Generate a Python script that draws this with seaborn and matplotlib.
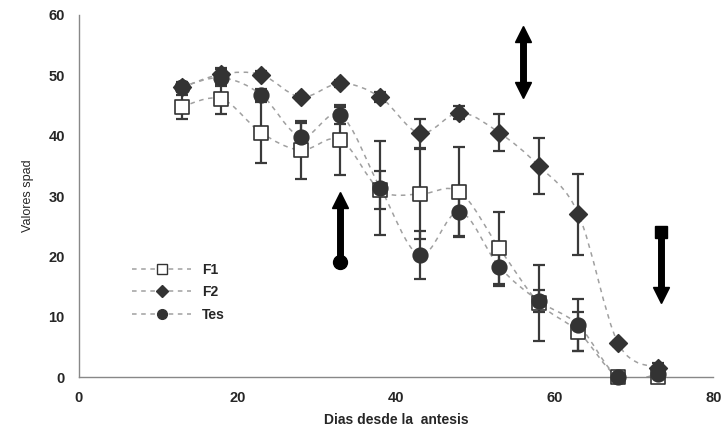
import numpy as np
import pandas as pd
import matplotlib.pyplot as plt
import seaborn as sns
from matplotlib.path import Path
from matplotlib.patches import PathPatch
from matplotlib.lines import Line2D

dias = [13, 18, 23, 28, 33, 38, 43, 48, 53, 58, 63, 68, 73]
f1 = [44.8, 46.1, 40.5, 37.6, 39.3, 31.0, 30.3, 30.7, 21.4, 12.3, 7.5, 0.0, 0.0]
f1_err = [2.0, 2.5, 5.1, 4.8, 5.8, 3.2, 7.5, 7.4, 6.0, 6.3, 3.2, 0.0, 0.0]
f2 = [48.0, 50.2, 50.1, 46.4, 48.7, 46.4, 40.4, 43.8, 40.5, 35.0, 27.0, 5.6, 1.5]
f2_err = [0.6, 1.0, 0.6, 0.5, 0.6, 0.8, 2.4, 1.1, 3.1, 4.6, 6.7, 0.4, 0.8]
tes = [48.1, 49.6, 46.8, 39.8, 43.4, 31.4, 20.2, 27.4, 18.3, 12.6, 8.6, 0.0, 0.5]
tes_err = [0.8, 1.4, 1.0, 2.3, 1.4, 7.8, 4.0, 4.2, 3.2, 1.8, 4.3, 0.0, 0.5]

# flechas: (x, y base, y punta)
flechas = [(33, 19.0, 30.5), (56, 46.4, 58.0), (73.4, 24.0, 12.4)]

series = [('F1', f1, f1_err, 's', 'white'),
          ('F2', f2, f2_err, 'D', '#333333'),
          ('Tes', tes, tes_err, 'o', '#333333')]


def smooth_path(x, y):
    pts = np.column_stack([x, y]).astype(float)
    verts = [pts[0]]
    codes = [Path.MOVETO]
    n = len(pts)
    for i in range(n - 1):
        p0 = pts[i - 1] if i > 0 else pts[i]
        p1 = pts[i]
        p2 = pts[i + 1]
        p3 = pts[i + 2] if i + 2 < n else pts[i + 1]
        c1 = p1 + (p2 - p0) / 6
        c2 = p2 - (p3 - p1) / 6
        verts += [c1, c2, p2]
        codes += [Path.CURVE4] * 3
    return Path(verts, codes)


sns.set_style('white')
plt.rcParams['font.family'] = ['Liberation Sans', 'DejaVu Sans']

fig = plt.figure(figsize=(7.22, 4.28), dpi=100)
ax = fig.add_axes([0.109, 0.119, 0.879, 0.846])

rows = []
for name, vals, errs, mk, fc in series:
    for d, v, e in zip(dias, vals, errs):
        rows.append({'dias': d, 'valor': v, 'err': e, 'serie': name})
df = pd.DataFrame(rows)

for name, vals, errs, mk, fc in series:
    ax.add_patch(PathPatch(smooth_path(dias, vals), fill=False, ec='#a0a0a0',
                           lw=1.1, ls=(0, (3, 3)), zorder=1))
    ax.errorbar(dias, vals, yerr=errs, fmt='none', ecolor='#3a3a3a',
                elinewidth=1.6, capsize=4.5, capthick=1.6, zorder=2)

sizes = {'s': 90, 'D': 80, 'o': 110}
for name, vals, errs, mk, fc in series:
    sub = df[df['serie'] == name]
    sns.scatterplot(data=sub, x='dias', y='valor', marker=mk, s=sizes[mk],
                    color=fc, edgecolor='#333333', linewidth=1.2, ax=ax, zorder=3,
                    legend=False, clip_on=False)

# flechas
x, y0, y1 = flechas[0]
ax.plot([x, x], [y0, y1 - 2], color='black', lw=5, solid_capstyle='butt', zorder=4)
ax.plot([x], [y0], marker='o', ms=10, color='black', zorder=4)
ax.plot([x], [y1 - 1.2], marker='^', ms=11, color='black', zorder=4)
x, y0, y1 = flechas[1]
ax.plot([x, x], [y0 + 2, y1 - 2], color='black', lw=5, solid_capstyle='butt', zorder=4)
ax.plot([x], [y1 - 1.2], marker='^', ms=11, color='black', zorder=4)
ax.plot([x], [y0 + 1.2], marker='v', ms=11, color='black', zorder=4)
x, y0, y1 = flechas[2]
ax.plot([x, x], [y0, y1 + 2], color='black', lw=5, solid_capstyle='butt', zorder=4)
ax.plot([x], [y0], marker='s', ms=9, color='black', zorder=4)
ax.plot([x], [y1 + 1.2], marker='v', ms=11, color='black', zorder=4)

ax.set_xlim(0, 80)
ax.set_ylim(0, 60)
ax.set_xticks([0, 20, 40, 60, 80])
ax.set_yticks([0, 10, 20, 30, 40, 50, 60])
for s in ['top', 'right']:
    ax.spines[s].set_visible(False)
for s in ['left', 'bottom']:
    ax.spines[s].set_color('#888888')
    ax.spines[s].set_linewidth(1.0)
ax.tick_params(axis='both', direction='out', length=4, width=1, color='#888888',
               labelsize=10.5, pad=6)
for lab in ax.get_xticklabels() + ax.get_yticklabels():
    lab.set_fontweight('bold')
ax.set_xlabel('Dias desde la  antesis', fontsize=10, fontweight='bold', labelpad=6)
ax.set_ylabel('Valores spad', fontsize=9, labelpad=10)

handles = [Line2D([], [], color='#a0a0a0', ls=(0, (3, 3)), lw=1.1, marker=mk,
                  markersize=7 if mk != 'D' else 6, markerfacecolor=fc,
                  markeredgecolor='#333333')
           for name, vals, errs, mk, fc in series]
ax.legend(handles, [s[0] for s in series], loc='upper left',
          bbox_to_anchor=(0.065, 0.35), frameon=False, handlelength=4.2,
          prop={'weight': 'bold', 'size': 10}, labelspacing=0.6)

fig.savefig('out.png', dpi=100)
